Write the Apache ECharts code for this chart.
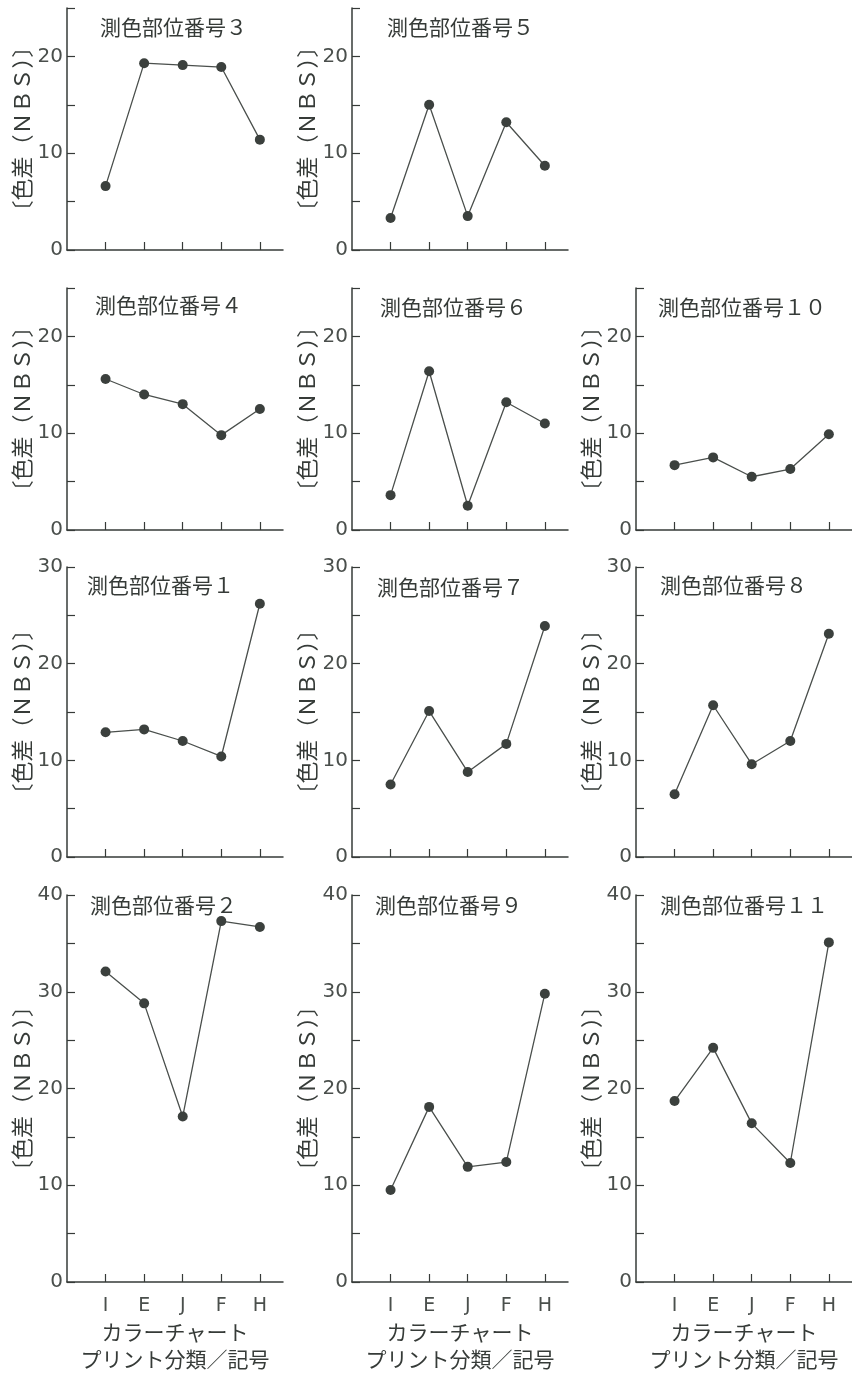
<!DOCTYPE html>
<html>
<head>
<meta charset="utf-8">
<title>測色部位番号別 色差</title>
<script src="https://cdn.jsdelivr.net/npm/echarts@6/dist/echarts.min.js"></script>
<style>
  html, body { margin: 0; padding: 0; background: #fff; }
  #chart { width: 852px; height: 1376px; }
</style>
</head>
<body>
<div id="chart"></div>
<script>
  // プリント分類/記号
  const categories = ["I", "E", "J", "F", "H"];

  // 色差 (NBS) per 測色部位番号
  const part3 = [6.6, 19.3, 19.1, 18.9, 11.4];
  const part5 = [3.3, 15.0, 3.5, 13.2, 8.7];
  const part4 = [15.6, 14.0, 13.0, 9.8, 12.5];
  const part6 = [3.6, 16.4, 2.5, 13.2, 11.0];
  const part10 = [6.7, 7.5, 5.5, 6.3, 9.9];
  const part1 = [12.9, 13.2, 12.0, 10.4, 26.2];
  const part7 = [7.5, 15.1, 8.8, 11.7, 23.9];
  const part8 = [6.5, 15.7, 9.6, 12.0, 23.1];
  const part2 = [32.1, 28.8, 17.1, 37.3, 36.7];
  const part9 = [9.5, 18.1, 11.9, 12.4, 29.8];
  const part11 = [18.7, 24.2, 16.4, 12.3, 35.1];

  // y axis tick labels by row
  const yLabelsRow1 = [0, 10, 20];
  const yLabelsRow2 = [0, 10, 20];
  const yLabelsRow3 = [0, 10, 20, 30];
  const yLabelsRow4 = [0, 10, 20, 30, 40];

  const titlePrefix = "測色部位番号";
  const yName = "〔色差（ＮＢＳ）〕";
  const xName = "カラーチャート\nプリント分類／記号";

  const ink = "#363b38";
  const cjk = "'Noto Sans CJK JP', 'Noto Sans CJK SC', sans-serif";
  const num = "'DejaVu Sans', sans-serif";

  // layout: grid position of each panel
  const colX = [67, 352, 636];
  const rows = [
    { top: 8, bottom: 250, max: 25, labels: yLabelsRow1 },
    { top: 288, bottom: 530, max: 25, labels: yLabelsRow2 },
    { top: 567, bottom: 857, max: 30, labels: yLabelsRow3 },
    { top: 895, bottom: 1282, max: 40, labels: yLabelsRow4 },
  ];
  const panels = [
    { no: "３", data: part3, row: 0, col: 0, tx: 95, ty: 25 },
    { no: "５", data: part5, row: 0, col: 1, tx: 382, ty: 25 },
    { no: "４", data: part4, row: 1, col: 0, tx: 90, ty: 303 },
    { no: "６", data: part6, row: 1, col: 1, tx: 375, ty: 305 },
    { no: "１０", data: part10, row: 1, col: 2, tx: 653, ty: 305 },
    { no: "１", data: part1, row: 2, col: 0, tx: 82, ty: 583 },
    { no: "７", data: part7, row: 2, col: 1, tx: 372, ty: 585 },
    { no: "８", data: part8, row: 2, col: 2, tx: 655, ty: 583 },
    { no: "２", data: part2, row: 3, col: 0, tx: 85, ty: 903 },
    { no: "９", data: part9, row: 3, col: 1, tx: 370, ty: 903 },
    { no: "１１", data: part11, row: 3, col: 2, tx: 655, ty: 903 },
  ];

  const xMax = 5.6;
  const xTicks = categories.map((c, i) => i + 1);

  const grid = [];
  const xAxis = [];
  const yAxis = [];
  const series = [];
  const title = [];

  panels.forEach((p, i) => {
    const r = rows[p.row];
    const isBottom = p.row === 3;
    grid.push({
      left: colX[p.col],
      top: r.top,
      width: 216,
      height: r.bottom - r.top,
    });
    xAxis.push({
      gridIndex: i,
      type: "value",
      min: 0,
      max: xMax,
      interval: 1,
      splitLine: { show: false },
      axisLine: { lineStyle: { color: ink, width: 1.5 } },
      axisTick: {
        show: true,
        inside: true,
        length: 8,
        customValues: xTicks,
        lineStyle: { color: ink, width: 1.2 },
      },
      axisLabel: {
        show: isBottom,
        customValues: xTicks,
        margin: 15,
        color: "#4a4f4c",
        fontFamily: num,
        fontSize: 19,
        formatter: (v) => categories[v - 1] || "",
      },
      name: isBottom ? xName : "",
      nameLocation: "middle",
      nameGap: 37,
      nameTextStyle: {
        color: ink,
        fontFamily: cjk,
        fontSize: 21,
        lineHeight: 27,
      },
    });
    yAxis.push({
      gridIndex: i,
      type: "value",
      min: 0,
      max: r.max,
      interval: 5,
      splitLine: { show: false },
      axisLine: { show: true, lineStyle: { color: ink, width: 1.5 } },
      axisTick: {
        show: true,
        inside: true,
        length: 8,
        lineStyle: { color: ink, width: 1.2 },
      },
      axisLabel: {
        customValues: r.labels,
        margin: 4,
        color: "#4a4f4c",
        fontFamily: num,
        fontSize: 20,
      },
      name: yName,
      nameLocation: "middle",
      nameGap: 34,
      nameTextStyle: {
        color: ink,
        fontFamily: cjk,
        fontSize: 22,
      },
    });
    series.push({
      type: "line",
      xAxisIndex: i,
      yAxisIndex: i,
      data: p.data.map((v, k) => [k + 1, v]),
      symbol: "circle",
      symbolSize: 10,
      itemStyle: { color: "#3b403d" },
      lineStyle: { color: "#4a4f4c", width: 1.3 },
      animation: false,
    });
    title.push({
      text: titlePrefix + p.no,
      left: p.tx,
      top: p.ty - 13,
      textStyle: {
        color: ink,
        fontFamily: cjk,
        fontSize: 21,
        fontWeight: "normal",
      },
    });
  });

  const chart = echarts.init(document.getElementById("chart"));
  chart.setOption({
    backgroundColor: "#ffffff",
    animation: false,
    title,
    grid,
    xAxis,
    yAxis,
    series,
  });
</script>
</body>
</html>
